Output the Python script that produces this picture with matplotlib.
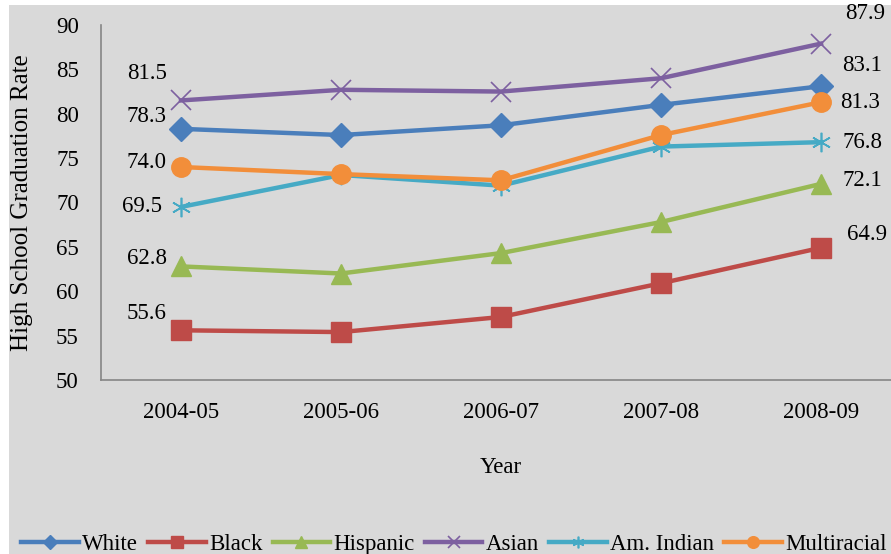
import matplotlib
matplotlib.use("Agg")
import matplotlib.pyplot as plt
from matplotlib.patches import Rectangle

years = ["2004-05", "2005-06", "2006-07", "2007-08", "2008-09"]
white = [78.3, 77.6, 78.7, 81.0, 83.1]
black = [55.6, 55.4, 57.1, 60.9, 64.9]
hispanic = [62.8, 62.0, 64.3, 67.8, 72.1]
asian = [81.5, 82.7, 82.5, 84.0, 87.9]
am_indian = [69.5, 73.1, 71.9, 76.3, 76.8]
multiracial = [74.0, 73.2, 72.5, 77.6, 81.3]

series_names = ["White", "Black", "Hispanic", "Asian", "Am. Indian", "Multiracial"]
series_values = [white, black, hispanic, asian, am_indian, multiracial]

plt.rcParams["font.family"] = ["Liberation Serif", "DejaVu Serif"]

colors = ["#4A7EBB", "#BE4B48", "#98B954", "#7D60A0", "#46AAC5", "#F28E3A"]
markers = ["D", "s", "^", "x", (6, 2, 0), "o"]
msizes = [12, 14, 14, 14, 14, 14]
mews = [1, 1, 1, 1.2, 1.2, 1]
# label offsets in pixels (first, last)
first_off = [(-34, 12), (-34, 17), (-34, 8), (-34, 27), (-39, 0), (-34, 4)]
last_off = [(41, 21), (46, 13), (41, 3), (44, 30), (41, 0), (39, 0)]

W, H = 891, 554
fig = plt.figure(figsize=(W / 100, H / 100), dpi=100, facecolor="white")
bg = "#D9D9D9"
fig.patches.append(Rectangle((9 / W, 0), 1, 1 - 5 / H, transform=fig.transFigure,
                             facecolor=bg, edgecolor="none", zorder=-10))

ax = fig.add_axes([101 / W, (H - 380) / H, 800 / W, 355 / H])
ax.set_facecolor(bg)
ax.patch.set_alpha(0)

fs = 16.5
x = list(range(len(years)))
for name, vals, c, m, ms, mew, fo, lo in zip(series_names, series_values, colors, markers,
                                              msizes, mews, first_off, last_off):
    ax.plot(x, vals, color=c, lw=3.2, marker=m, markersize=ms, markeredgewidth=mew,
            markerfacecolor=c, markeredgecolor=c, label=name, clip_on=False)
    ax.annotate(f"{vals[0]:.1f}", (x[0], vals[0]), xytext=fo, textcoords="offset pixels",
                ha="center", va="center", fontsize=fs, color="black")
    ax.annotate(f"{vals[-1]:.1f}", (x[-1], vals[-1]), xytext=lo, textcoords="offset pixels",
                ha="center", va="center", fontsize=fs, color="black",
                annotation_clip=False)

ax.set_xlim(-0.5, 4.5)
ax.set_ylim(50, 90)
ax.set_yticks(range(50, 91, 5))
ax.set_xticks(x)
ax.set_xticklabels(years)
for lbl in ax.get_xticklabels() + ax.get_yticklabels():
    lbl.set_fontsize(fs)
ax.tick_params(axis="both", length=0)
ax.tick_params(axis="y", pad=16)
ax.tick_params(axis="x", pad=16)
for s in ["top", "right"]:
    ax.spines[s].set_visible(False)
for s in ["left", "bottom"]:
    ax.spines[s].set_color("#868686")
    ax.spines[s].set_linewidth(1.2)

ax.set_ylabel("High School Graduation Rate", fontsize=18)
ax.set_xlabel("Year", fontsize=fs)
ax.yaxis.set_label_coords(-68 / 800, 0.5)
ax.xaxis.set_label_coords(0.5, -77 / 355)

leg = fig.legend(loc="lower center", bbox_to_anchor=(454 / W, -22 / H), ncol=6, frameon=False,
                 prop={"size": fs}, handlelength=2.5, handletextpad=0.15,
                 columnspacing=0.45, markerscale=0.6)

fig.savefig("out.png", dpi=100, facecolor="white")
